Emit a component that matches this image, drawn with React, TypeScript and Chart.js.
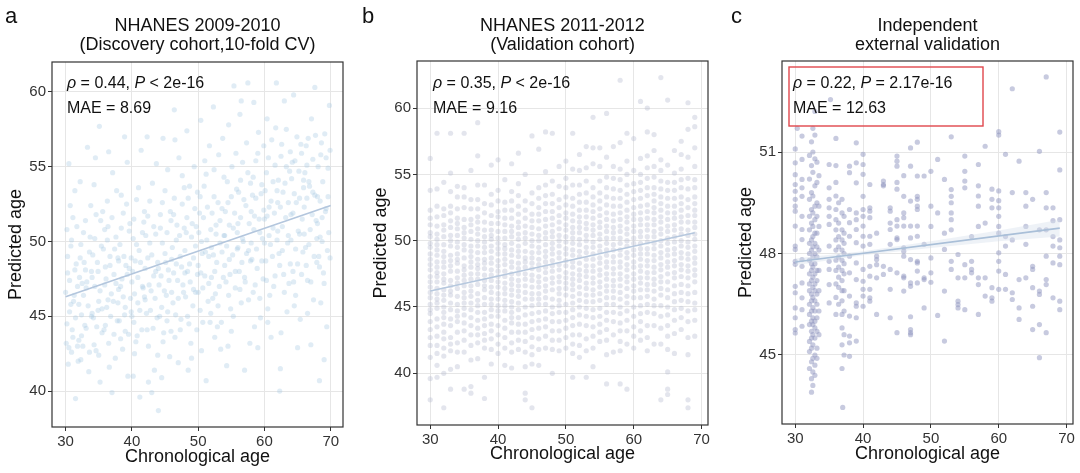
import React, { useEffect, useRef } from 'react';
import { Chart, registerables } from 'chart.js';
Chart.register(...registerables);

const FONT = '"Liberation Sans", Arial, Helvetica, sans-serif';

// ---------- shared ----------
const X_TICKS = [30, 40, 50, 60, 70];
const X_TITLE = 'Chronological age';
const Y_TITLE = 'Predicted age';

// ---------- panel a : NHANES 2009-2010 ----------
const A_TITLE = ['NHANES 2009-2010', '(Discovery cohort,10-fold CV)'];
const A_Y_TICKS = [40, 45, 50, 55, 60];
const A_STATS = ['0.44', '< 2e-16', '8.69'];
const A_FIT: [number, number][] = [[30, 46.3], [70, 52.4]];
const A_POINTS: [number, number][] = [
  [30.1,43.2],[30.3,47.9],[30.4,41.8],[30.6,45.3],[30.8,49.7],[31.0,44.1],[31.1,51.6],[31.3,46.4],[31.5,39.5],[31.6,48.5],[31.8,43.0],[30.2,50.8],[30.9,42.6],[31.4,53.4],[30.5,55.2],
  [32.0,45.8],[32.2,48.9],[32.3,42.1],[32.5,47.2],[32.7,50.6],[32.9,44.4],[33.1,46.9],[33.3,56.3],[33.5,41.3],[33.6,49.3],[33.8,52.4],[32.4,43.7],[33.0,48.1],[33.9,45.0],
  [34.0,47.6],[34.2,44.9],[34.4,50.2],[34.6,42.7],[34.8,48.6],[35.0,46.0],[35.1,57.7],[35.3,51.4],[35.5,43.9],[35.7,49.5],[35.9,47.1],[34.3,53.8],[35.2,40.6],[34.9,45.4],
  [36.0,48.3],[36.2,45.6],[36.4,51.0],[36.5,43.2],[36.7,49.0],[36.9,46.5],[37.1,54.6],[37.3,47.8],[37.5,42.2],[37.6,50.3],[37.8,44.7],[36.3,52.7],[37.0,39.9],[37.9,48.9],
  [38.0,46.8],[38.2,49.8],[38.3,43.5],[38.5,47.5],[38.7,51.9],[38.9,45.1],[39.1,48.4],[39.3,55.3],[39.4,41.0],[39.6,50.7],[39.8,46.2],[38.4,53.1],[39.0,44.0],[39.9,48.9],
  [40.0,47.3],[40.2,50.2],[40.3,44.6],[40.5,48.7],[40.7,52.8],[40.9,45.9],[41.1,49.4],[41.2,39.6],[41.4,56.1],[41.6,47.0],[41.8,51.3],[40.4,42.5],[40.8,43.7],[41.9,46.3],
  [42.0,48.2],[42.2,45.2],[42.4,51.7],[42.5,43.0],[42.7,49.9],[42.9,46.7],[43.1,53.9],[43.3,47.7],[43.4,41.4],[43.6,50.5],[43.8,44.9],[42.3,57.0],[43.0,39.9],[43.9,48.6],
  [44.0,38.7],[44.1,47.1],[44.3,50.9],[44.5,45.6],[44.6,52.6],[44.8,43.9],[45.0,49.2],[45.2,46.4],[45.4,54.8],[45.5,48.1],[45.7,42.3],[45.9,51.4],[44.7,56.9],[45.3,44.7],
  [46.0,48.8],[46.2,45.9],[46.3,51.8],[46.5,43.6],[46.7,50.1],[46.9,47.4],[47.1,55.6],[47.3,49.0],[47.4,44.8],[47.6,52.5],[47.8,46.6],[46.4,58.8],[47.0,41.9],[47.9,53.6],
  [48.0,47.9],[48.2,50.6],[48.4,45.0],[48.5,52.9],[48.7,48.5],[48.9,43.2],[49.1,51.2],[49.3,46.8],[49.4,55.0],[49.6,49.7],[49.8,44.1],[48.3,57.4],[49.0,42.2],[49.9,53.3],
  [50.0,48.4],[50.2,51.9],[50.3,45.4],[50.5,50.0],[50.7,46.9],[50.9,53.7],[51.1,49.3],[51.2,40.7],[51.4,52.3],[51.6,47.2],[51.8,44.6],[50.4,58.1],[51.0,55.4],[51.9,50.8],
  [52.0,49.6],[52.2,46.2],[52.4,53.0],[52.5,48.0],[52.7,51.1],[52.9,44.3],[53.1,55.8],[53.3,49.9],[53.4,42.8],[53.6,52.2],[53.8,47.6],[52.3,59.0],[53.0,45.7],[53.9,54.3],
  [54.0,50.4],[54.2,47.3],[54.3,41.7],[54.5,52.6],[54.7,48.8],[54.9,45.5],[55.1,55.0],[55.3,50.9],[55.4,60.4],[55.6,46.9],[55.8,53.5],[54.6,57.8],[55.0,44.0],[55.9,49.5],
  [56.0,51.2],[56.2,48.0],[56.4,54.1],[56.5,45.9],[56.7,50.2],[56.9,52.8],[57.1,47.3],[57.3,56.6],[57.5,60.6],[57.6,49.4],[57.8,43.2],[56.3,58.5],[57.0,41.4],[57.9,53.9],
  [58.0,49.9],[58.2,53.1],[58.3,46.6],[58.5,51.7],[58.7,55.4],[58.9,48.2],[59.1,57.3],[59.3,50.6],[59.4,44.9],[59.6,53.8],[59.8,47.5],[58.4,59.3],[59.0,42.9],[59.9,52.1],
  [60.0,51.5],[60.2,48.7],[60.3,54.6],[60.5,45.5],[60.7,52.3],[60.9,49.8],[61.1,56.8],[61.3,50.9],[61.4,47.0],[61.6,55.1],[61.8,60.6],[60.4,58.2],[61.0,43.6],[61.9,53.4],
  [62.0,52.6],[62.2,49.2],[62.3,40.0],[62.5,55.7],[62.7,51.0],[62.9,47.8],[63.1,53.9],[63.3,57.5],[63.4,45.3],[63.6,50.4],[63.8,54.7],[62.4,41.5],[63.0,59.4],[63.9,48.5],
  [64.0,51.8],[64.2,55.3],[64.3,48.0],[64.5,53.2],[64.7,46.4],[64.9,57.0],[65.1,50.7],[65.3,52.9],[65.4,44.8],[65.6,55.9],[65.8,49.3],[64.4,59.8],[65.0,42.9],[65.9,54.1],
  [66.0,52.3],[66.2,49.6],[66.3,56.4],[66.5,47.4],[66.7,54.0],[66.9,50.8],[67.1,58.2],[67.3,53.3],[67.4,46.1],[67.6,60.3],[67.8,51.4],[66.4,55.1],[67.0,43.1],[67.9,48.6],
  [68.0,53.0],[68.2,49.0],[68.3,40.7],[68.5,55.8],[68.7,51.6],[68.9,47.9],[69.1,57.2],[69.3,52.2],[69.4,44.3],[69.6,54.9],[69.8,59.1],[68.4,50.3],[69.0,42.1],[69.9,48.9],
  [30.0,46.6],[30.2,44.5],[30.3,49.0],[30.5,42.9],[30.6,47.4],[30.8,45.8],[30.9,50.1],[31.1,43.6],[31.2,46.0],[31.4,48.1],[31.5,44.9],[31.7,51.0],[31.8,47.0],[31.9,42.0],[30.7,52.4],
  [32.0,43.4],[32.1,47.6],[32.3,49.8],[32.4,45.1],[32.6,43.0],[32.7,46.4],[32.8,48.6],[33.0,51.4],[33.1,44.2],[33.2,47.3],[33.4,45.7],[33.6,42.6],[33.7,50.3],[33.9,48.0],[32.2,54.0],
  [34.0,45.2],[34.1,49.1],[34.3,43.1],[34.4,47.0],[34.6,51.8],[34.7,44.3],[34.9,48.0],[35.0,42.4],[35.2,46.7],[35.4,49.7],[35.5,45.5],[35.6,52.0],[35.8,44.1],[35.9,50.8],[34.5,55.6],
  [36.0,44.4],[36.1,47.5],[36.3,50.1],[36.4,46.1],[36.6,41.6],[36.7,48.4],[36.8,45.0],[37.0,51.6],[37.2,46.0],[37.3,43.8],[37.4,49.5],[37.6,47.2],[37.7,53.4],[37.9,45.9],[36.5,56.0],
  [38.0,48.7],[38.1,44.7],[38.3,47.0],[38.4,50.9],[38.6,42.8],[38.7,46.3],[38.8,49.0],[39.0,45.6],[39.2,52.5],[39.3,47.8],[39.5,43.8],[39.6,48.2],[39.7,51.2],[39.9,45.3],[38.9,57.0],
  [40.0,45.0],[40.1,48.0],[40.3,51.5],[40.4,46.5],[40.6,43.3],[40.7,49.8],[40.9,47.6],[41.0,53.6],[41.2,45.4],[41.3,48.6],[41.5,44.1],[41.6,50.6],[41.7,46.9],[41.9,52.0],[40.2,41.0],
  [42.0,46.1],[42.1,50.4],[42.3,44.1],[42.4,48.9],[42.6,47.1],[42.7,52.7],[42.8,45.4],[43.0,49.1],[43.2,44.2],[43.3,51.0],[43.5,46.2],[43.6,48.0],[43.7,55.2],[43.9,42.4],[42.5,40.6],
  [44.0,48.2],[44.2,45.0],[44.3,51.8],[44.4,47.7],[44.6,49.9],[44.7,43.3],[44.9,46.7],[45.0,53.4],[45.1,48.6],[45.3,50.6],[45.4,45.3],[45.6,47.4],[45.8,52.0],[45.9,44.0],[44.5,40.9],
  [46.0,46.6],[46.1,49.6],[46.3,47.9],[46.4,52.9],[46.6,45.1],[46.7,48.5],[46.8,51.1],[47.0,46.2],[47.2,50.4],[47.3,44.1],[47.5,48.3],[47.6,54.4],[47.7,47.1],[47.9,50.9],[46.5,56.8],
  [48.0,49.4],[48.1,46.3],[48.3,51.6],[48.4,48.0],[48.6,44.5],[48.7,53.7],[48.8,47.3],[49.0,50.3],[49.2,45.7],[49.3,48.9],[49.5,52.2],[49.6,46.6],[49.7,51.0],[49.9,47.8],[48.5,41.4],
  [50.0,46.6],[50.1,50.6],[50.3,53.0],[50.4,47.9],[50.6,49.2],[50.7,44.6],[50.8,51.6],[51.0,47.7],[51.2,54.5],[51.3,50.1],[51.5,46.0],[51.6,49.0],[51.7,56.4],[51.9,45.2],[50.5,42.7],
  [52.0,47.6],[52.1,51.9],[52.3,49.1],[52.4,54.8],[52.6,46.5],[52.7,50.5],[52.8,48.6],[53.0,52.6],[53.2,47.0],[53.3,51.4],[53.5,44.6],[53.6,49.3],[53.7,56.9],[53.9,50.4],[52.5,43.6],
  [54.0,48.4],[54.1,52.0],[54.3,49.7],[54.4,54.0],[54.6,46.4],[54.7,51.1],[54.8,47.8],[55.0,53.0],[55.2,49.1],[55.3,45.0],[55.5,51.9],[55.6,48.0],[55.7,55.9],[55.9,50.6],[54.5,43.0],
  [56.0,49.6],[56.1,53.3],[56.3,46.8],[56.4,51.6],[56.6,48.6],[56.7,55.3],[56.8,50.0],[57.0,47.6],[57.2,52.4],[57.3,49.2],[57.5,54.6],[57.6,46.1],[57.7,51.2],[57.9,48.7],[56.5,59.4],
  [58.0,52.0],[58.1,48.8],[58.3,54.3],[58.4,50.8],[58.6,47.1],[58.7,52.9],[58.8,49.5],[59.0,55.9],[59.2,51.5],[59.3,46.2],[59.5,53.2],[59.6,48.7],[59.7,50.2],[59.9,56.4],[58.5,44.3],
  [60.0,49.9],[60.1,53.4],[60.3,47.4],[60.4,51.7],[60.6,55.6],[60.7,50.4],[60.8,46.4],[61.0,52.7],[61.2,49.0],[61.3,54.0],[61.5,51.9],[61.6,47.7],[61.7,57.6],[61.9,50.1],[60.5,44.6],
  [62.0,50.7],[62.1,54.1],[62.3,48.4],[62.4,52.3],[62.6,56.5],[62.7,49.4],[62.8,53.3],[63.0,46.6],[63.2,51.6],[63.3,55.0],[63.5,49.9],[63.6,52.6],[63.7,47.2],[63.9,56.0],[62.5,43.9],
  [64.0,50.1],[64.1,54.2],[64.3,51.9],[64.4,47.3],[64.6,55.4],[64.7,49.5],[64.8,52.6],[65.0,48.5],[65.2,54.7],[65.3,50.5],[65.5,56.5],[65.6,47.8],[65.7,51.5],[65.9,53.6],[64.5,45.7],
  [66.0,50.5],[66.1,54.6],[66.3,48.4],[66.4,52.9],[66.6,56.9],[66.7,49.8],[66.8,53.7],[67.0,47.3],[67.2,51.8],[67.3,55.5],[67.5,49.0],[67.6,53.1],[67.7,57.1],[67.9,50.2],[66.5,45.2],
  [68.0,51.2],[68.1,55.0],[68.3,48.3],[68.4,52.7],[68.6,56.6],[68.7,50.0],[68.8,54.0],[69.0,47.2],[69.2,52.0],[69.3,55.6],[69.5,49.4],[69.6,53.0],[69.7,50.6],[69.9,56.1],[68.5,45.9],
];

// ---------- panel b : NHANES 2011-2012 ----------
const B_TITLE = ['NHANES 2011-2012', '(Validation cohort)'];
const B_Y_TICKS = [40, 45, 50, 55, 60];
const B_STATS = ['0.35', '< 2e-16', '9.16'];
const B_FIT: [number, number][] = [[30, 46.2], [69, 50.6]];
const B_AGES = [30,31,32,33,34,35,36,37,38,39,40,41,42,43,44,45,46,47,48,49,50,51,52,53,54,55,56,57,58,59,60,61,62,63,64,65,66,67,68,69];
const B_PRED: number[][] = [
  [38.0,39.6,41.2,42.1,42.7,43.3,43.9,44.5,44.8,45.2,45.7,46.1,46.5,46.9,47.3,47.8,48.2,48.6,49.0,49.5,49.8,50.3,50.6,51.2,51.7,52.3,53.8,56.2],
  [39.7,40.6,41.5,42.1,42.8,43.5,44.1,44.9,45.3,45.6,46.0,46.4,46.9,47.3,47.6,48.0,48.4,48.9,49.3,49.7,50.1,50.5,51.1,51.8,52.6,53.9,58.1],
  [37.4,40.0,41.3,41.9,42.6,43.1,43.7,44.2,44.6,45.0,45.5,45.9,46.3,46.8,47.1,47.5,48.0,48.4,48.8,49.2,49.7,50.3,50.8,51.2,51.9,52.4,54.4],
  [38.8,40.3,41.7,42.2,42.7,43.6,44.1,44.8,45.3,45.9,46.2,46.6,47.0,47.7,48.1,48.5,48.9,49.6,50.0,50.4,51.0,51.5,52.1,52.6,53.7,55.1,58.1],
  [40.5,41.6,42.3,43.1,43.9,44.3,44.7,45.2,45.8,46.4,46.8,47.2,47.7,48.3,48.6,49.0,49.5,49.9,50.4,50.9,51.3,51.7,52.4,53.3,54.1],
  [38.8,41.6,42.5,43.2,43.8,44.4,44.9,45.3,45.7,46.1,46.6,47.0,47.4,47.8,48.1,48.7,49.3,49.7,50.2,50.6,51.0,51.6,52.5,53.3,54.0,58.1],
  [38.5,39.0,41.0,42.1,42.9,43.6,44.2,44.8,45.3,45.8,46.2,46.6,47.1,47.5,48.0,48.4,48.8,49.2,49.6,50.1,50.7,51.2,51.6,52.4,53.1,55.3],
  [41.1,42.3,42.9,43.4,44.0,44.6,45.1,45.5,46.0,46.7,47.1,47.5,47.9,48.2,48.6,49.1,49.6,50.0,50.5,50.9,51.4,51.8,52.4,53.1,54.2,56.4,58.9],
  [38.1,39.7,41.9,42.5,43.0,43.6,44.1,44.6,45.2,45.7,46.3,46.6,47.0,47.4,47.9,48.3,48.6,49.1,49.5,49.9,50.3,50.8,51.4,52.1,52.8,54.2],
  [40.7,41.8,42.6,43.2,43.7,44.3,44.8,45.2,45.6,46.1,46.5,47.0,47.4,47.8,48.3,48.7,49.2,49.6,50.1,50.4,50.8,51.3,51.9,52.7,53.5,55.7],
  [41.5,42.2,42.9,43.6,44.3,44.7,45.1,45.6,46.0,46.5,46.9,47.3,47.7,48.1,48.5,49.0,49.4,49.8,50.2,50.7,51.3,51.8,52.2,53.0,53.8,56.1],
  [40.6,41.9,42.7,43.4,44.0,44.7,45.1,45.5,46.0,46.4,46.8,47.3,47.7,48.2,48.6,49.0,49.4,49.7,50.2,50.7,51.2,51.7,52.3,52.9,54.6],
  [40.4,41.6,42.3,43.1,43.8,44.2,44.6,45.0,45.4,45.9,46.3,46.7,47.1,47.5,48.0,48.4,48.9,49.3,49.8,50.3,50.7,51.1,51.7,52.3,53.0,53.7,55.8],
  [41.8,42.5,43.1,43.7,44.2,44.8,45.3,45.8,46.2,46.6,47.0,47.5,47.9,48.3,48.8,49.2,49.6,50.1,50.5,51.0,51.4,52.0,52.6,53.4,54.3,56.6],
  [38.0,38.5,40.5,41.6,42.4,43.1,43.7,44.4,45.0,45.6,46.1,46.6,47.1,47.5,48.0,48.4,48.7,49.2,49.8,50.2,50.6,51.1,51.7,52.3,53.0,55.0],
  [37.4,40.7,41.4,42.0,42.7,43.3,43.9,44.5,45.1,45.6,46.0,46.5,47.0,47.4,47.9,48.3,48.7,49.1,49.6,50.0,50.5,51.0,51.5,52.0,52.8,53.6,57.9],
  [40.6,41.8,42.6,43.4,44.0,44.6,45.2,45.6,46.0,46.5,46.9,47.3,47.8,48.2,48.6,49.1,49.5,50.0,50.4,50.9,51.5,52.0,52.5,53.2,54.0,56.9],
  [41.9,42.8,43.5,44.1,44.7,45.2,45.7,46.2,46.6,47.1,47.6,48.0,48.4,48.8,49.2,49.7,50.2,50.6,51.1,51.6,52.2,52.8,53.4,54.2,55.2,58.2],
  [40.0,41.8,42.5,43.2,43.9,44.5,45.0,45.6,46.3,46.8,47.2,47.7,48.1,48.5,49.0,49.4,49.8,50.3,50.7,51.2,51.7,52.2,52.8,53.5,54.5,58.1],
  [41.7,42.5,43.2,43.9,44.6,45.1,45.5,46.0,46.4,46.9,47.3,47.8,48.2,48.7,49.1,49.6,50.0,50.4,50.9,51.4,51.9,52.5,53.1,54.1,55.6],
  [41.9,42.7,43.4,44.0,44.6,45.2,45.9,46.4,46.8,47.2,47.6,48.1,48.5,49.0,49.4,49.9,50.3,50.8,51.2,51.7,52.1,52.7,53.3,54.0,54.7,56.0],
  [39.7,41.5,42.2,42.9,43.6,44.2,44.8,45.3,45.8,46.3,46.7,47.1,47.5,48.0,48.4,48.9,49.3,49.8,50.2,50.6,51.0,51.5,52.0,52.6,53.2,54.2,55.4,58.1],
  [41.2,42.1,42.9,43.7,44.4,45.0,45.5,46.0,46.5,47.0,47.4,47.8,48.3,48.8,49.2,49.7,50.1,50.6,51.0,51.4,51.8,52.3,52.9,53.5,54.2,55.3,56.5],
  [39.7,41.7,42.6,43.6,44.3,44.9,45.4,45.9,46.4,46.8,47.3,47.7,48.1,48.6,49.1,49.5,50.0,50.4,50.9,51.3,51.8,52.3,52.9,53.6,54.5,55.5,57.1],
  [40.5,41.9,42.8,43.5,44.2,44.8,45.4,45.9,46.3,46.8,47.2,47.7,48.1,48.6,49.0,49.5,49.9,50.4,50.8,51.2,51.7,52.2,52.7,53.3,54.0,55.8,57.0,59.3],
  [42.4,43.1,43.7,44.3,44.9,45.5,46.0,46.5,46.9,47.4,47.8,48.3,48.7,49.2,49.6,50.1,50.5,51.0,51.4,51.9,52.4,53.0,53.6,54.5,55.6,57.0],
  [39.2,41.4,42.5,43.3,44.0,44.6,45.2,45.7,46.2,46.6,47.1,47.5,48.0,48.4,48.9,49.3,49.8,50.2,50.7,51.1,51.6,52.1,52.7,53.3,54.0,54.8,56.3,59.6],
  [41.6,42.9,43.9,44.6,45.2,45.7,46.2,46.6,47.0,47.5,47.9,48.4,48.8,49.3,49.7,50.2,50.6,51.0,51.5,52.0,52.6,53.2,53.9,54.7,55.6,57.1],
  [39.2,41.7,42.4,43.2,43.8,44.5,45.0,45.6,46.1,46.6,47.1,47.5,48.0,48.4,48.9,49.3,49.8,50.2,50.7,51.1,51.6,52.1,52.6,53.2,53.8,54.6,55.4,57.4,62.1],
  [38.8,42.2,43.2,44.0,44.7,45.3,45.8,46.4,46.9,47.3,47.8,48.2,48.7,49.1,49.6,50.0,50.5,50.9,51.4,51.8,52.3,52.9,53.5,54.2,55.0,56.0,58.1],
  [41.9,42.8,43.5,44.3,45.0,45.7,46.2,46.6,47.1,47.5,48.0,48.4,48.9,49.3,49.8,50.2,50.7,51.1,51.6,52.0,52.5,53.1,53.7,54.3,55.3,57.7],
  [42.5,43.2,43.9,44.5,45.1,45.7,46.3,46.8,47.2,47.7,48.1,48.6,49.0,49.4,49.8,50.3,50.7,51.2,51.6,52.1,52.6,53.2,53.8,54.4,55.0,56.2,60.5],
  [41.7,42.7,43.6,44.6,45.2,45.8,46.3,46.7,47.2,47.6,48.1,48.5,49.0,49.4,49.9,50.3,50.8,51.2,51.7,52.2,52.7,53.4,54.0,54.7,55.5,56.4,58.2,60.0],
  [42.2,43.6,44.5,45.1,45.6,46.2,46.7,47.1,47.6,48.0,48.5,48.9,49.4,49.8,50.3,50.7,51.2,51.6,52.1,52.5,53.0,53.5,54.0,54.8,55.6,56.8,58.0],
  [38.0,42.2,43.4,44.3,45.1,45.9,46.4,46.9,47.3,47.8,48.2,48.7,49.1,49.6,50.0,50.5,50.9,51.4,51.8,52.3,52.8,53.3,53.9,54.5,55.3,56.1,62.3],
  [38.4,38.8,40.1,41.8,42.8,43.6,44.4,45.0,45.7,46.3,46.9,47.5,48.0,48.4,48.9,49.3,49.8,50.2,50.7,51.1,51.6,52.1,52.6,53.2,53.8,54.4,55.7,60.6],
  [41.5,43.0,44.0,44.8,45.4,46.0,46.6,47.2,47.6,48.1,48.5,49.0,49.4,49.9,50.3,50.8,51.2,51.7,52.1,52.6,53.2,53.8,54.4,55.1,56.8],
  [43.3,44.2,44.9,45.5,46.1,46.7,47.3,47.8,48.2,48.7,49.1,49.6,50.0,50.5,50.9,51.4,51.8,52.3,52.8,53.3,54.0,54.6,55.4,56.5,57.5],
  [37.4,38.0,41.4,42.7,43.9,44.7,45.4,46.0,46.6,47.2,47.7,48.1,48.6,49.0,49.5,49.9,50.4,50.8,51.4,51.9,52.5,53.1,53.9,54.7,56.3,58.4,60.4],
  [42.8,44.0,44.8,45.3,46.1,46.9,47.4,47.8,48.3,48.7,49.2,49.6,50.1,50.5,51.0,51.4,51.9,52.3,52.8,53.3,54.0,54.6,55.6,57.0,58.6,59.3],
];

// ---------- panel c : Independent external validation ----------
const C_TITLE = ['Independent', 'external validation'];
const C_Y_TICKS = [45, 48, 51];
const C_STATS = ['0.22', '= 2.17e-16', '12.63'];
const C_FIT: [number, number][] = [[30, 47.75], [69, 48.75]];
const C_BAND_UPPER: [number, number][] = [[30, 47.85], [40, 48.07], [50, 48.36], [60, 48.68], [69, 49.0]];
const C_BAND_LOWER: [number, number][] = [[30, 47.65], [40, 47.95], [50, 48.16], [60, 48.36], [69, 48.5]];
const C_POINTS: [number, number][] = [
  [30,51.09],[30,50.68],[30,50.33],[30,50.04],[30,49.84],[30,49.6],[30,49.4],[30,49.25],[30,48.81],[30,48.22],[30,48.12],[30,47.77],[30,47.68],[30,47.03],[30,46.84],[30,46.39],[30,46.1],[30,45.75],[30,45.65],[30.3,51.7],
  [31,51.47],[31,50.78],[31,50.19],[31,49.94],[31,49.69],[31,49.1],[31,48.71],[31,48.41],[31,47.82],[31,47.62],[31,47.13],[31,46.69],[31,46.34],[31,45.85],
  [32.1,44.6],[32.1,45.1],[32.1,45.4],[32.1,45.9],[32.1,46.2],[32.1,46.5],[32.1,46.9],[32.1,47.1],[32.1,47.4],[32.1,47.8],[32.1,48.0],[32.1,48.3],[32.1,48.7],[32.1,49.1],[32.1,49.6],[32.1,50.2],[32.1,50.9],
  [32.4,43.9],[32.4,44.3],[32.4,44.8],[32.4,45.2],[32.4,45.5],[32.4,45.7],[32.4,46.0],[32.4,46.3],[32.4,46.6],[32.4,46.8],[32.4,47.2],[32.4,47.5],[32.4,47.7],[32.4,48.1],[32.4,48.4],[32.4,48.9],[32.4,49.3],[32.4,49.8],[32.4,50.6],[32.4,51.3],
  [32.6,44.1],[32.6,44.5],[32.6,44.9],[32.6,45.3],[32.6,45.6],[32.6,45.9],[32.6,46.1],[32.6,46.4],[32.6,46.7],[32.6,47.0],[32.6,47.3],[32.6,47.6],[32.6,47.9],[32.6,48.2],[32.6,48.5],[32.6,48.8],[32.6,49.2],[32.6,49.7],[32.6,50.4],[32.6,51.0],[32.6,51.7],
  [32.9,44.4],[32.9,44.7],[32.9,45.0],[32.9,45.5],[32.9,45.8],[32.9,46.0],[32.9,46.3],[32.9,46.6],[32.9,46.9],[32.9,47.1],[32.9,47.4],[32.9,47.7],[32.9,48.0],[32.9,48.3],[32.9,48.6],[32.9,49.0],[32.9,49.4],[32.9,50.0],[32.9,50.8],[32.9,51.5],[32.9,52.2],
  [33.2,44.9],[33.2,45.2],[33.2,45.7],[33.2,46.1],[33.2,46.5],[33.2,46.8],[33.2,47.2],[33.2,47.5],[33.2,47.9],[33.2,48.2],[33.2,48.6],[33.2,49.1],[33.2,49.5],[33.2,50.1],[33.2,50.7],
  [33.5,45.6],[33.5,46.3],[33.5,46.9],[33.5,47.5],[33.5,48.1],[33.5,48.8],[33.5,49.4],[33.5,50.3],
  [35,50.63],[35,49.94],[35,49.6],[35,49.35],[35,49.1],[35,48.86],[35,48.22],[35,47.77],[35,47.53],[35,47.08],[35,46.54],[35.2,52.55],
  [36.0,46.2],[36.0,46.7],[36.0,47.1],[36.0,47.5],[36.0,47.8],[36.0,48.1],[36.0,48.4],[36.0,48.7],[36.0,49.0],[36.0,49.3],[36.0,49.7],[36.0,50.1],[36.0,50.6],[36.0,51.4],
  [36.4,46.5],[36.4,47.0],[36.4,47.3],[36.4,47.6],[36.4,47.9],[36.4,48.2],[36.4,48.5],[36.4,48.9],[36.4,49.5],
  [36.9,44.6],[36.9,45.3],[36.9,45.8],[36.9,46.2],[36.9,46.6],[36.9,46.9],[36.9,47.2],[36.9,47.5],[36.9,47.8],[36.9,48.1],[36.9,48.4],[36.9,48.7],[36.9,49.2],[36.9,49.6],
  [37.2,45.0],[37.2,45.6],[37.2,46.3],[37.2,46.9],[37.2,47.4],[37.2,47.7],[37.2,48.0],[37.2,48.3],[37.2,48.6],[37.2,49.1],[37,43.45],
  [38,50.58],[38,50.39],[38,49.3],[38,48.91],[38,48.51],[38,47.92],[38,47.43],[38,46.74],[38,46.15],[38,45.56],[38,45.36],[38,44.96],
  [39,51.27],[39,50.68],[39,50.09],[39,49.2],[39,49.0],[39,48.71],[39,48.32],[39,47.72],[39,47.23],[39,46.54],[39,46.44],[39,46.1],[39,45.41],
  [40,50.93],[40,50.63],[40,50.34],[40,49.69],[40,49.3],[40,49.1],[40,48.81],[40,48.51],[40,48.22],[40,47.53],[40,47.18],[40,46.94],[40,46.74],[40,46.44],
  [41,50.04],[41,49.35],[41,49.25],[41,49.06],[41,48.51],[41,48.27],[41,47.62],[41,47.33],[41,46.94],[41,46.69],[41,46.59],
  [42,47.92],[42,47.82],[42,47.28],[42,46.2],[42,47.67],[42,48.6],
  [43,50.14],[43,50.04],[43,47.62],[43,47.38],[43,50.0],
  [44,49.35],[44,49.25],[44,48.71],[44,48.27],[44,47.53],[44,46.94],[44,46.1],[44,48.9],
  [45,50.88],[45,50.73],[45,50.58],[45,49.0],[45,48.81],[45,48.46],[45,48.41],[45,47.43],[45,45.66],[45,50.1],[45,49.9],
  [46,49.69],[46,49.2],[46,49.06],[46,48.81],[46,48.17],[46,47.92],[46,47.33],[46,46.89],[46,50.3],[46,48.07],[46,47.28],
  [47,51.12],[47,49.55],[47,48.81],[47,48.46],[47,47.82],[47,47.03],[47,45.75],[47,45.66],[47,50.58],[47,47.13],[47,46.13],[47,45.6],
  [48,50.29],[48,49.69],[48,49.3],[48,48.81],[48,48.51],[48,47.72],[48,47.48],[48,47.13],[48,51.29],[48,49.6],[48,49.4],[48,47.77],
  [49,50.29],[49,48.27],[49,47.28],[49,46.39],[49,47.23],
  [50,50.43],[50,49.4],[50,47.87],[50,47.43],[50,47.15],[50,48.8],
  [51,50.78],[51,49.2],[51,46.17],
  [52,50.19],[52,46.89],[52,45.41],[52,48.12],[52,48.6],
  [53,51.45],[53,49.89],[53,49.69],[53,49.5],[53,49.2],[53,49.0],[53,48.7],[53,47.77],[53,47.53],
  [54,47.97],[54,47.28],[54,46.59],[54,46.49],[54,46.39],
  [55,50.88],[55,50.43],[55,50.14],[55,49.94],[55,47.67],[55,47.28],[55,46.34],
  [56,47.77],[56,47.53],[56,47.43],[56,48.5],
  [57,50.63],[57,50.0],[57,49.7],[57,49.4],[57,47.28],[57,47.08],[57,46.2],[57,48.8],
  [58,51.17],[58,47.28],[58,46.74],[58,48.9],
  [59,49.9],[59,49.6],[59,49.35],[59,46.99],[59,46.69],[59,46.59],
  [60,51.6],[60,51.5],[60,49.85],[60,49.56],[60,49.35],[60,49.1],[60,48.8],[60,48.02],[60,47.77],[60,47.48],[60,46.94],[60,48.6],
  [61,50.93],[61,48.22],[61,47.38],[61,46.94],[61,48.5],
  [62,52.87],[62,49.8],[62,46.84],[62,46.64],[62,48.4],
  [63,50.73],[63,47.23],[63,46.39],[63,46.05],
  [64,49.8],[64,49.4],[64,48.27],[64,47.28],[64,48.8],
  [65,49.6],[65,47.62],[65,47.53],[65,46.99],[65,46.44],[65,45.75],
  [66,51.02],[66,46.89],[66,46.79],[66,45.9],[66,44.92],[66,48.7],
  [67,53.22],[67,49.8],[67,49.35],[67,47.92],[67,47.23],[67,47.08],[67,45.66],[67,48.7],
  [68,49.35],[68,48.97],[68,48.22],[68,47.72],[68,46.69],[68,48.5],
  [69,51.59],[69,50.47],[69,49.0],[69,48.17],[69,47.92],[69,47.67],[69,46.59],[69,46.34],[69,48.4],
];

type Seg = { t: string; it?: boolean };
type Panel = {
  left: number; width: number;
  yAxisW: number; xAxisH: number; padTop: number; padRight: number;
  yTitlePad: number; xTitlePad: number;
  xMin: number; xMax: number; yMin: number; yMax: number; yTicks: number[];
  title: string[]; letter: string; letterX: number;
  ann: Seg[][]; annDx: number; annDy: number[];
  box?: [number, number, number, number];
  datasets: any[];
};

const toXY = (arr: [number, number][]) => arr.map(([x, y]) => ({ x, y }));
const statLines = (s: string[]): Seg[][] => [
  [{ t: 'ρ', it: true }, { t: ` = ${s[0]}, ` }, { t: 'P', it: true }, { t: ` ${s[1]}` }],
  [{ t: `MAE = ${s[2]}` }],
];
const fitLine = (arr: [number, number][], color: string) => ({
  type: 'line', data: toXY(arr), borderColor: color, borderWidth: 1.6,
  pointRadius: 0, showLine: true, fill: false, order: 0,
});
const pts = (data: { x: number; y: number }[], color: string) => ({
  type: 'scatter', data, backgroundColor: color, borderWidth: 0,
  pointRadius: 2.6, pointHoverRadius: 2.6, order: 2,
});

const decor = {
  id: 'decor',
  afterDraw(chart: any, _a: any, o: any) {
    const { ctx, chartArea: ca } = chart;
    ctx.save();
    ctx.strokeStyle = '#333';
    ctx.lineWidth = 1.2;
    ctx.strokeRect(ca.left, ca.top, ca.right - ca.left, ca.bottom - ca.top);
    ctx.fillStyle = '#111';
    ctx.textBaseline = 'alphabetic';
    ctx.textAlign = 'center';
    ctx.font = `18px ${FONT}`;
    const cx = (ca.left + ca.right) / 2;
    o.title.forEach((t: string, i: number) => ctx.fillText(t, cx, [31, 50][i]));
    ctx.textAlign = 'left';
    ctx.font = `22px ${FONT}`;
    ctx.fillText(o.letter, o.letterX, 23);
    o.ann.forEach((line: Seg[], i: number) => {
      let x = ca.left + o.annDx;
      const y = ca.top + o.annDy[i];
      line.forEach((s) => {
        ctx.font = `${s.it ? 'italic ' : ''}16px ${FONT}`;
        ctx.fillText(s.t, x, y);
        x += ctx.measureText(s.t).width;
      });
    });
    if (o.box) {
      const [bx, by, bw, bh] = o.box;
      ctx.strokeStyle = '#e0474c';
      ctx.lineWidth = 1.4;
      ctx.strokeRect(ca.left + bx, ca.top + by, bw, bh);
    }
    ctx.restore();
  },
};

function makeConfig(p: Panel): any {
  const tickFont = { family: FONT, size: 15 };
  const titleFont = { family: FONT, size: 18 };
  const grid = { color: '#e6e6e6', lineWidth: 1, tickLength: 4, tickColor: '#333', drawTicks: true };
  return {
    type: 'scatter',
    data: { datasets: p.datasets },
    plugins: [decor],
    options: {
      animation: false,
      responsive: false,
      events: [],
      layout: { padding: { top: p.padTop, right: p.padRight, left: 0, bottom: 0 } },
      plugins: {
        legend: { display: false },
        tooltip: { enabled: false },
        decor: {
          title: p.title, letter: p.letter, letterX: p.letterX,
          ann: p.ann, annDx: p.annDx, annDy: p.annDy, box: p.box,
        },
      },
      scales: {
        x: {
          type: 'linear', min: p.xMin, max: p.xMax,
          afterBuildTicks: (s: any) => { s.ticks = X_TICKS.map((v) => ({ value: v })); },
          afterFit: (s: any) => { s.height = p.xAxisH; },
          ticks: { font: tickFont, color: '#333', padding: 2, maxRotation: 0, autoSkip: false },
          grid, border: { display: false },
          title: { display: true, text: X_TITLE, font: titleFont, color: '#111', padding: { top: 0, bottom: p.xTitlePad } },
        },
        y: {
          type: 'linear', min: p.yMin, max: p.yMax,
          afterBuildTicks: (s: any) => { s.ticks = p.yTicks.map((v) => ({ value: v })); },
          afterFit: (s: any) => { s.width = p.yAxisW; },
          ticks: { font: tickFont, color: '#333', padding: 2, autoSkip: false },
          grid, border: { display: false },
          title: { display: true, text: Y_TITLE, font: titleFont, color: '#111', padding: { top: p.yTitlePad, bottom: 0 } },
        },
      },
    },
  };
}

const bPoints = B_AGES.flatMap((age, i) => B_PRED[i].map((y) => ({ x: age, y })));

const PANELS: Panel[] = [
  {
    left: 0, width: 360, yAxisW: 52, xAxisH: 46, padTop: 62, padRight: 17,
    yTitlePad: 5, xTitlePad: 5,
    xMin: 27.95, xMax: 71.85, yMin: 37.6, yMax: 62.0, yTicks: A_Y_TICKS,
    title: A_TITLE, letter: 'a', letterX: 5,
    ann: statLines(A_STATS), annDx: 15, annDy: [26.3, 50.7],
    datasets: [fitLine(A_FIT, '#b3c6dd'), pts(toXY(A_POINTS), 'rgba(165,198,226,0.34)')],
  },
  {
    left: 360, width: 365, yAxisW: 57, xAxisH: 48, padTop: 61, padRight: 17,
    yTitlePad: 10, xTitlePad: 8,
    xMin: 28.05, xMax: 70.95, yMin: 36.1, yMax: 63.55, yTicks: B_Y_TICKS,
    title: B_TITLE, letter: 'b', letterX: 2,
    ann: statLines(B_STATS), annDx: 16, annDy: [27.3, 52.3],
    datasets: [fitLine(B_FIT, '#b6c8de'), pts(bPoints, 'rgba(178,183,205,0.36)')],
  },
  {
    left: 725, width: 355, yAxisW: 57, xAxisH: 49, padTop: 61, padRight: 7,
    yTitlePad: 10, xTitlePad: 8,
    xMin: 28.05, xMax: 70.95, yMin: 42.96, yMax: 53.69, yTicks: C_Y_TICKS,
    title: C_TITLE, letter: 'c', letterX: 6,
    ann: statLines(C_STATS), annDx: 11, annDy: [27, 52], box: [7, 6, 194, 59],
    datasets: [
      fitLine(C_FIT, '#a9bfd8'),
      { type: 'line', data: toXY(C_BAND_UPPER), borderWidth: 0, pointRadius: 0, fill: '+1', backgroundColor: 'rgba(212,222,236,0.4)', order: 1 },
      { type: 'line', data: toXY(C_BAND_LOWER), borderWidth: 0, pointRadius: 0, fill: false, order: 1 },
      pts(toXY(C_POINTS), 'rgba(143,150,192,0.5)'),
    ],
  },
];

function PanelChart({ p }: { p: Panel }) {
  const ref = useRef<HTMLCanvasElement>(null);
  useEffect(() => {
    if (!ref.current) return;
    const chart = new Chart(ref.current, makeConfig(p));
    return () => chart.destroy();
  }, [p]);
  return (
    <canvas
      ref={ref}
      width={p.width}
      height={473}
      style={{ position: 'absolute', left: p.left, top: 0, width: p.width, height: 473 }}
    />
  );
}

export default function App() {
  return (
    <div style={{ position: 'fixed', left: 0, top: 0, width: 1080, height: 473, background: '#fff', overflow: 'hidden' }}>
      {PANELS.map((p, i) => <PanelChart key={i} p={p} />)}
    </div>
  );
}
